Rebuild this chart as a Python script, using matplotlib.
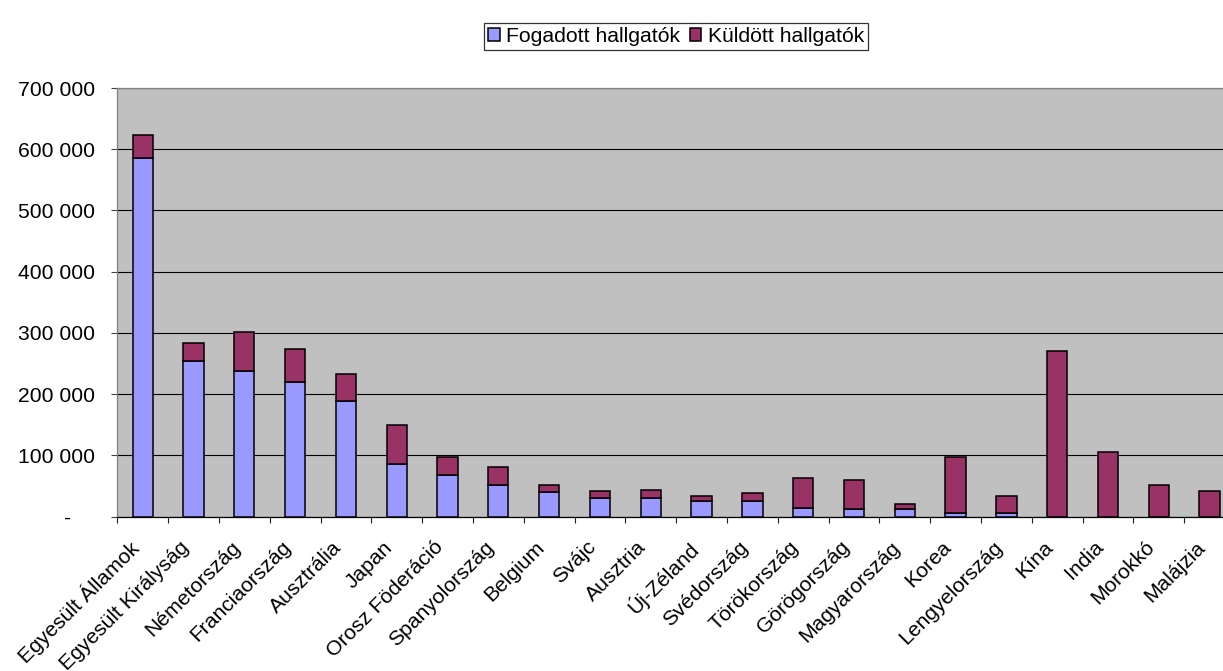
import numpy as np
import matplotlib
matplotlib.use("Agg")
import matplotlib.pyplot as plt
from matplotlib.ticker import FuncFormatter, FixedLocator
from matplotlib.transforms import ScaledTranslation

plt.rcParams['font.family'] = ['Liberation Sans', 'DejaVu Sans']

orszagok = [
    "Egyesült Államok", "Egyesült Királyság", "Németország", "Franciaország",
    "Ausztrália", "Japan", "Orosz Föderáció", "Spanyolország", "Belgium",
    "Svájc", "Ausztria", "Új-Zéland", "Svédország", "Törökország",
    "Görögország", "Magyarország", "Korea", "Lengyelország", "Kína",
    "India", "Morokkó", "Malájzia",
]
fogadott = [586000, 254000, 238500, 220500, 189000, 86000, 67600, 51800,
            40800, 30500, 30500, 25600, 25600, 14700, 13000, 13000,
            6000, 6000, 0, 0, 0, 0]
kuldott = [37400, 29700, 63700, 53400, 44600, 63800, 29400, 29900,
           11500, 11500, 13500, 8700, 13100, 47800, 47000, 7700,
           91000, 27800, 271000, 105000, 52300, 42000]

KEK = "#9999FF"
BORDO = "#993366"
FS = 15.2

W, H = 1223, 671
fig = plt.figure(figsize=(W / 100, H / 100), dpi=100)
# plot area runs a little past the right edge of the canvas
left, right, top, bottom = 117.3, 1235.0, 88.0, 516.7
ax = fig.add_axes([left / W, 1 - bottom / H, (right - left) / W, (bottom - top) / H])
ax.set_facecolor("#C0C0C0")

x = np.arange(len(orszagok))
ax.bar(x, fogadott, width=0.4, color=KEK, edgecolor="black", linewidth=1.1,
       label="Fogadott hallgatók", zorder=3)
ax.bar(x, kuldott, width=0.4, bottom=fogadott, color=BORDO, edgecolor="black",
       linewidth=1.1, label="Küldött hallgatók", zorder=3)

ax.set_xlim(-0.5, len(orszagok) - 0.5)
ax.set_ylim(0, 700000)

# y axis
ax.set_yticks(np.arange(0, 700001, 100000))
def fmt(v, pos):
    if v == 0:
        return "-\u2007\u2007"
    return f"{v:,.0f}".replace(",", " ")
ax.yaxis.set_major_formatter(FuncFormatter(fmt))
ax.tick_params(axis="y", direction="out", length=4.5, width=0.8, color="#404040",
               pad=11.5, labelsize=FS, labelcolor="black")
ax.grid(axis="y", color="black", linewidth=0.8, zorder=1)
ax.set_axisbelow(True)

# x axis: tick marks between categories, labels at centers
ax.xaxis.set_minor_locator(FixedLocator(np.arange(-0.5, len(orszagok), 1.0)))
ax.set_xticks(x)
ax.set_xticklabels(orszagok, rotation=45, ha="right", rotation_mode="anchor")
ax.tick_params(axis="x", which="major", length=0, pad=15, labelsize=FS)
ax.tick_params(axis="x", which="minor", direction="out", length=4.5, width=0.8,
               color="#202020")
shift = ScaledTranslation(-14 / 100, 0, fig.dpi_scale_trans)
for lbl in ax.get_xticklabels():
    lbl.set_transform(lbl.get_transform() + shift)

ax.spines["top"].set_color("#808080")
ax.spines["left"].set_color("#808080")
ax.spines["bottom"].set_color("black")
ax.spines["right"].set_visible(False)
for s in ax.spines.values():
    s.set_linewidth(0.9)

leg = fig.legend(loc="center", bbox_to_anchor=(676 / W, 1 - 36.5 / H), ncol=2,
                 fontsize=FS, frameon=True, fancybox=False, borderpad=0.2,
                 handlelength=0.55, handleheight=0.55, handletextpad=0.3,
                 columnspacing=0.45, borderaxespad=0)
leg.get_frame().set_edgecolor("black")
leg.get_frame().set_linewidth(0.9)

fig.savefig("out.png", dpi=100)
